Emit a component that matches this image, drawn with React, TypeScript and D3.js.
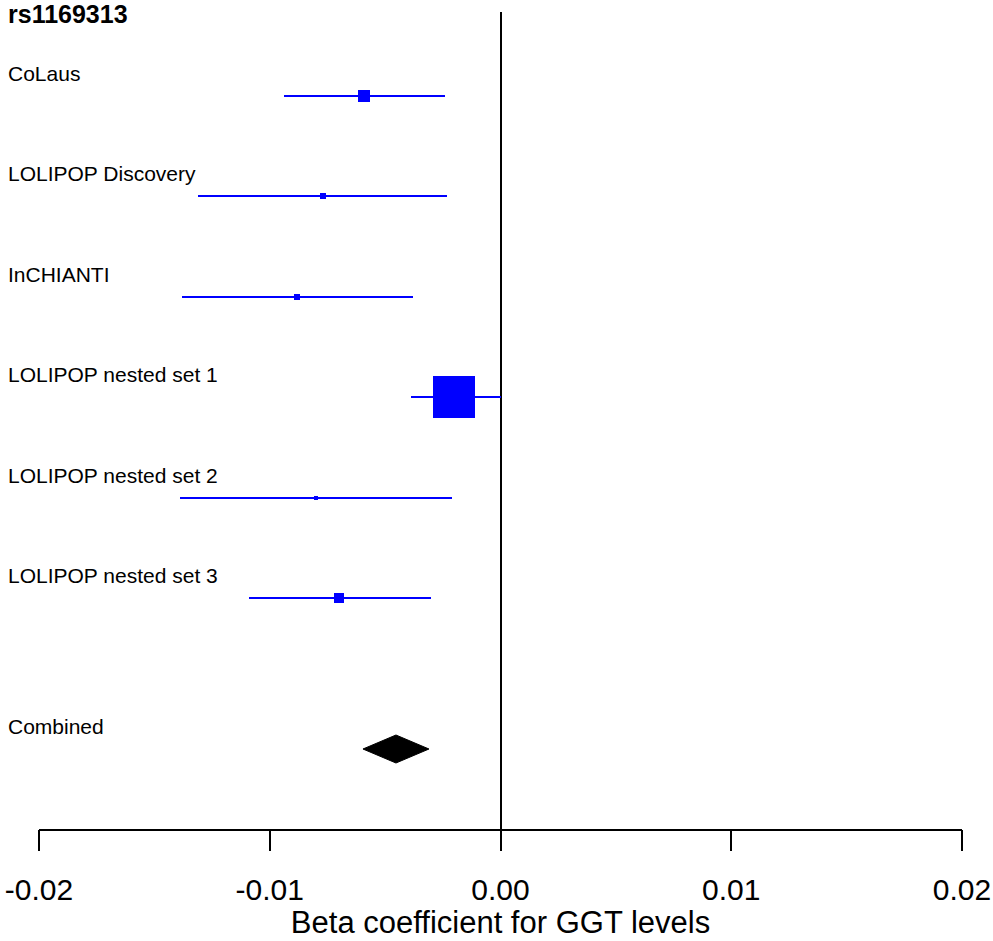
import React from "react";
import * as d3 from "d3";

const studies = [
  "CoLaus",
  "LOLIPOP Discovery",
  "InCHIANTI",
  "LOLIPOP nested set 1",
  "LOLIPOP nested set 2",
  "LOLIPOP nested set 3",
];
const betas = [-0.0059, -0.0077, -0.0088, -0.002, -0.008, -0.007];
const lowers = [-0.0094, -0.0131, -0.0138, -0.0039, -0.0139, -0.0109];
const uppers = [-0.0024, -0.0023, -0.0038, 0.0, -0.0021, -0.003];
const weights = [6.9, 1.7, 1.7, 84.2, 0.8, 4.8];

const combinedLabel = "Combined";
const combinedBeta = -0.00453;
const combinedLower = -0.00596;
const combinedUpper = -0.0031;

const snpTitle = "rs1169313";
const xTickValues = [-0.02, -0.01, 0.0, 0.01, 0.02];
const xTickLabels = ["-0.02", "-0.01", "0.00", "0.01", "0.02"];
const xAxisTitle = "Beta coefficient for GGT levels";

const W = 993;
const H = 941;
const FONT = "'Liberation Sans', Arial, Helvetica, sans-serif";

export default function App() {
  const x = d3.scaleLinear().domain([-0.02, 0.02]).range([39, 962]);
  const y = d3.scaleLinear().domain([0, 6.5]).range([96, 749]);
  const box = d3.scaleSqrt().domain([0, d3.max(weights) as number]).range([0, 42]);
  const axisY = 830;
  const blue = "#0000ff";

  const diamond = d3.line<[number, number]>()([
    [x(combinedLower), y(6.5)],
    [x(combinedBeta), y(6.5) - 14],
    [x(combinedUpper), y(6.5)],
    [x(combinedBeta), y(6.5) + 14],
  ]) as string;

  return (
    <svg
      width={W}
      height={H}
      style={{ position: "absolute", left: 0, top: 0, background: "#fff" }}
      fontFamily={FONT}
    >
      <rect x={0} y={0} width={W} height={H} fill="#fff" />
      <text x={8} y={23} fontSize={25} fontWeight="bold" fill="#000">
        {snpTitle}
      </text>

      {/* zero line */}
      <line x1={x(0)} x2={x(0)} y1={12} y2={axisY} stroke="#000" strokeWidth={2} shapeRendering="crispEdges" />

      {studies.map((s, i) => {
        const cy = y(i);
        const size = Math.max(box(weights[i]), 3);
        return (
          <g key={s}>
            <text x={8} y={cy - 15} fontSize={21} fill="#000">
              {s}
            </text>
            <line
              x1={x(lowers[i])}
              x2={x(uppers[i])}
              y1={cy}
              y2={cy}
              stroke={blue}
              strokeWidth={2}
              shapeRendering="crispEdges"
            />
            <rect
              x={x(betas[i]) - size / 2}
              y={cy - size / 2}
              width={size}
              height={size}
              fill={blue}
              shapeRendering="crispEdges"
            />
          </g>
        );
      })}

      <text x={8} y={y(6.5) - 15} fontSize={21} fill="#000">
        {combinedLabel}
      </text>
      <path d={diamond + "Z"} fill="#000" stroke="#000" strokeWidth={1} />

      {/* x axis */}
      <line x1={x(-0.02)} x2={x(0.02)} y1={axisY} y2={axisY} stroke="#000" strokeWidth={2} shapeRendering="crispEdges" />
      {xTickValues.map((v, i) => (
        <g key={v}>
          <line x1={x(v)} x2={x(v)} y1={axisY} y2={axisY + 21} stroke="#000" strokeWidth={2} shapeRendering="crispEdges" />
          <text x={x(v)} y={900} fontSize={30} textAnchor="middle" fill="#000">
            {xTickLabels[i]}
          </text>
        </g>
      ))}
      <text x={x(0)} y={933} fontSize={31} textAnchor="middle" fill="#000">
        {xAxisTitle}
      </text>
    </svg>
  );
}
